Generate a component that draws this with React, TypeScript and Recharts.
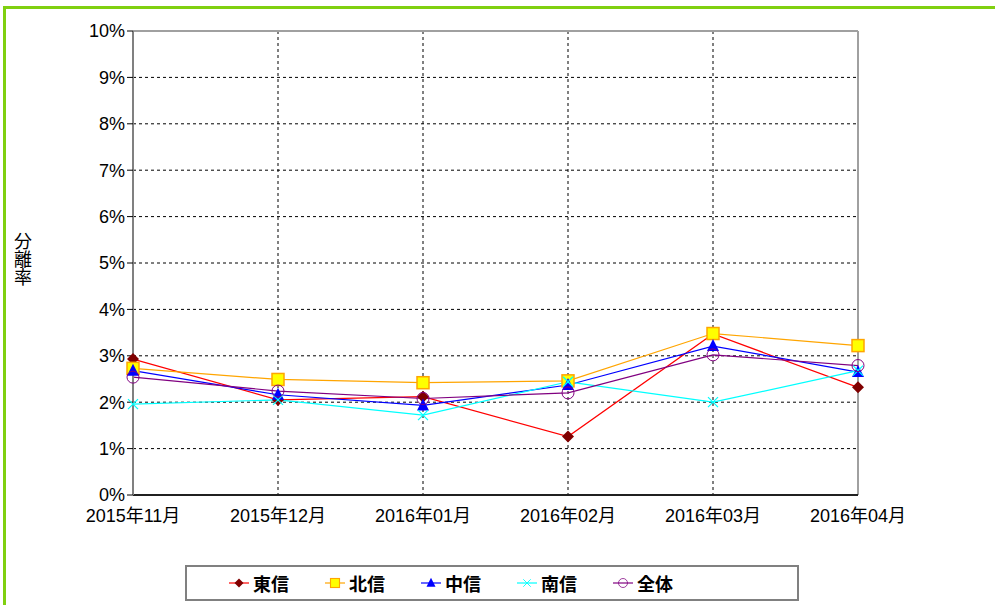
import React from 'react';
import { LineChart, Line, XAxis, YAxis, CartesianGrid, ReferenceLine } from 'recharts';

const months = ['2015年11月', '2015年12月', '2016年01月', '2016年02月', '2016年03月', '2016年04月'];
const touShin = [2.93, 2.05, 2.12, 1.26, 3.47, 2.32];
const hokuShin = [2.73, 2.49, 2.42, 2.46, 3.48, 3.22];
const chuShin = [2.68, 2.16, 1.93, 2.37, 3.21, 2.65];
const nanShin = [1.96, 2.05, 1.72, 2.44, 2.0, 2.68];
const zentai = [2.54, 2.24, 2.08, 2.2, 3.02, 2.79];
const yTicks = [0, 1, 2, 3, 4, 5, 6, 7, 8, 9, 10];

const data = months.map((m, i) => ({
  month: m,
  touShin: touShin[i],
  hokuShin: hokuShin[i],
  chuShin: chuShin[i],
  nanShin: nanShin[i],
  zentai: zentai[i],
}));

const narrow = '"Liberation Sans Narrow", "Liberation Sans", "Noto Sans CJK JP", sans-serif';
const jp = '"Noto Sans CJK JP", sans-serif';

type Kind = 'diamond' | 'square' | 'triangle' | 'cross' | 'circle';

const Marker = ({ kind, cx, cy }: { kind: Kind; cx: number; cy: number }) => {
  if (kind === 'diamond') {
    const r = 6;
    return <polygon points={`${cx},${cy - r} ${cx + r},${cy} ${cx},${cy + r} ${cx - r},${cy}`} fill="#800000" />;
  }
  if (kind === 'square') {
    return <rect x={cx - 6} y={cy - 6} width={12} height={12} fill="#ffff00" stroke="#ffa500" strokeWidth={1.5} />;
  }
  if (kind === 'triangle') {
    return <polygon points={`${cx},${cy - 7} ${cx + 6},${cy + 5} ${cx - 6},${cy + 5}`} fill="#0000ff" />;
  }
  if (kind === 'cross') {
    return (
      <g stroke="#00ffff" strokeWidth={1.2}>
        <line x1={cx - 5} y1={cy - 5} x2={cx + 5} y2={cy + 5} />
        <line x1={cx - 5} y1={cy + 5} x2={cx + 5} y2={cy - 5} />
      </g>
    );
  }
  return <circle cx={cx} cy={cy} r={6} fill="none" stroke="#800080" strokeWidth={1} />;
};

const series: { key: string; name: string; color: string; kind: Kind }[] = [
  { key: 'touShin', name: '東信', color: '#ff0000', kind: 'diamond' },
  { key: 'hokuShin', name: '北信', color: '#ffa500', kind: 'square' },
  { key: 'chuShin', name: '中信', color: '#0000ff', kind: 'triangle' },
  { key: 'nanShin', name: '南信', color: '#00ffff', kind: 'cross' },
  { key: 'zentai', name: '全体', color: '#800080', kind: 'circle' },
];

const LegendBox = () => (
  <div
    style={{
      position: 'absolute',
      left: 185,
      top: 565,
      width: 614,
      height: 36,
      border: '2px solid #808080',
      boxSizing: 'border-box',
      display: 'flex',
      alignItems: 'center',
      paddingLeft: 42,
      fontFamily: jp,
      fontSize: 18,
      fontWeight: 'bold',
      color: '#000',
      background: '#fff',
    }}
  >
    {series.map((s) => (
      <div key={s.key} style={{ display: 'flex', alignItems: 'center', width: 96 }}>
        <svg width={20} height={16}>
          <line x1={0} y1={8} x2={20} y2={8} stroke={s.color} strokeWidth={1.2} />
          <g transform="translate(10,8) scale(0.75) translate(-10,-8)">
            <Marker kind={s.kind} cx={10} cy={8} />
          </g>
        </svg>
        <span style={{ marginLeft: 4 }}>{s.name}</span>
      </div>
    ))}
  </div>
);

// vertical Japanese axis title, one text node
const YLabel = () => (
  <text
    x={23}
    y={232}
    fontFamily={jp}
    fontSize={18}
    fill="#000"
    style={{ writingMode: 'vertical-rl', textOrientation: 'upright' }}
  >
    分離率
  </text>
);

export default function App() {
  return (
    <div style={{ position: 'absolute', left: 0, top: 0, width: 995, height: 605, background: '#fff', overflow: 'hidden' }}>
      <div style={{ position: 'absolute', left: 3, top: 6, width: 992, height: 3, background: '#80d010' }} />
      <div style={{ position: 'absolute', left: 3, top: 6, width: 3, height: 600, background: '#80d010' }} />
      <LineChart width={995} height={605} data={data} margin={{ top: 31, right: 137, bottom: 80, left: 73 }}>
        <CartesianGrid stroke="#000" strokeDasharray="3 3" strokeWidth={1} />
        <XAxis
          dataKey="month"
          tickLine={false}
          axisLine={{ stroke: '#202020', strokeWidth: 2 }}
          tick={{ fill: '#000', fontSize: 18, fontFamily: narrow }}
          tickMargin={8}
          interval={0}
          height={30}
        />
        <YAxis
          domain={[0, 10]}
          ticks={yTicks}
          tickFormatter={(v: number) => `${v}%`}
          axisLine={{ stroke: '#808080', strokeWidth: 2 }}
          tickLine={{ stroke: '#000' }}
          tickSize={6}
          tick={{ fill: '#000', fontSize: 18, fontFamily: narrow }}
          width={60}
        />
        <ReferenceLine y={10} stroke="#a0a0a0" strokeWidth={2} />
        <ReferenceLine x={months[months.length - 1]} stroke="#a0a0a0" strokeWidth={2} />
        {series.map((s) => (
          <Line
            key={s.key}
            type="linear"
            dataKey={s.key}
            name={s.name}
            stroke={s.color}
            strokeWidth={1.2}
            isAnimationActive={false}
            dot={(p: any) => <Marker key={`${s.key}-${p.index}`} kind={s.kind} cx={p.cx} cy={p.cy} />}
            activeDot={false}
          />
        ))}
        <YLabel />
      </LineChart>
      <LegendBox />
    </div>
  );
}
